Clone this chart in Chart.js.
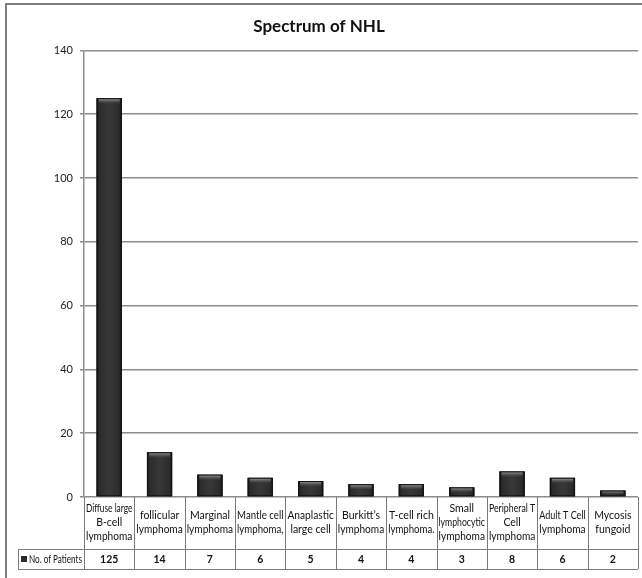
<!DOCTYPE html>
<html>
<head>
<meta charset="utf-8">
<script src="https://cdn.jsdelivr.net/npm/chart.js@4/dist/chart.umd.min.js"></script>
<style>
  html, body { margin: 0; padding: 0; background: #ffffff; }
  canvas { display: block; }
</style>
</head>
<body>
<canvas id="chart" width="642" height="578"></canvas>
<script>
// NHL subtypes and patient counts
const chartTitle = 'Spectrum of NHL';
const seriesName = 'No. of Patients';
const categories = [
  ['Diffuse large', 'B-cell', 'lymphoma'],
  ['follicular', 'lymphoma'],
  ['Marginal', 'lymphoma'],
  ['Mantle cell', 'lymphoma,'],
  ['Anaplastic', 'large cell'],
  ['Burkitt\u2019s', 'lymphoma'],
  ['T-cell rich', 'lymphoma.'],
  ['Small', 'lymphocytic', 'lymphoma'],
  ['Peripheral T', 'Cell', 'lymphoma'],
  ['Adult T Cell', 'lymphoma'],
  ['Mycosis', 'fungoid']
];
const patients = [125, 14, 7, 6, 5, 4, 4, 3, 8, 6, 2];
const yMin = 0;
const yMax = 140;
const yStep = 20;

const FONT = "Lato, 'Liberation Sans', sans-serif";

// Outer frame lines (top and left edge)
const framePlugin = {
  id: 'frame',
  beforeDraw(chart) {
    const ctx = chart.ctx;
    ctx.save();
    ctx.fillStyle = '#ffffff';
    ctx.fillRect(0, 0, chart.width, chart.height);
    ctx.strokeStyle = '#7e7e7e';
    ctx.lineWidth = 2;
    ctx.beginPath();
    ctx.moveTo(6, chart.height);
    ctx.lineTo(6, 4);
    ctx.lineTo(chart.width, 4);
    ctx.stroke();
    ctx.restore();
  }
};

// Bevelled look for the bars: darker edges, lighter top rim
const bevelPlugin = {
  id: 'bevel',
  afterDatasetsDraw(chart) {
    const ctx = chart.ctx;
    const meta = chart.getDatasetMeta(0);
    ctx.save();
    meta.data.forEach(bar => {
      const { x, y, base, width } = bar.getProps(['x', 'y', 'base', 'width'], true);
      const l = x - width / 2, r = x + width / 2;
      const h = base - y;
      const g = ctx.createLinearGradient(l, 0, r, 0);
      g.addColorStop(0, '#161616');
      g.addColorStop(0.12, '#2c2c2c');
      g.addColorStop(0.5, '#383838');
      g.addColorStop(0.88, '#2c2c2c');
      g.addColorStop(1, '#161616');
      ctx.fillStyle = g;
      ctx.fillRect(l, y, width, h);
      ctx.strokeStyle = '#111111';
      ctx.lineWidth = 1;
      ctx.strokeRect(l + 0.5, y + 0.5, width - 1, h - 1);
      const rim = Math.min(5, h / 2);
      const tg = ctx.createLinearGradient(0, y + 1, 0, y + 1 + rim);
      tg.addColorStop(0, '#8a8a8a');
      tg.addColorStop(1, 'rgba(60,60,60,0)');
      ctx.fillStyle = tg;
      ctx.fillRect(l + 2, y + 1, width - 4, rim);
    });
    ctx.restore();
  }
};

// Data table under the plot area
const tablePlugin = {
  id: 'dataTable',
  afterDraw(chart) {
    const ctx = chart.ctx;
    const { left, right, bottom } = chart.chartArea;
    const xs = chart.scales.x;
    const n = categories.length;
    const colW = (right - left) / n;
    const rowMid = bottom + 52;
    const rowBot = bottom + 72;
    const labelLeft = 18;

    ctx.save();
    ctx.strokeStyle = '#7a7a7a';
    ctx.lineWidth = 1;
    ctx.beginPath();
    for (let i = 0; i <= n; i++) {
      const bx = Math.round(i < n ? xs.getPixelForValue(i) - colW / 2 : xs.getPixelForValue(n - 1) + colW / 2) + 0.5;
      ctx.moveTo(bx, bottom);
      ctx.lineTo(bx, rowBot);
    }
    ctx.moveTo(labelLeft + 0.5, rowMid);
    ctx.lineTo(labelLeft + 0.5, rowBot);
    ctx.moveTo(labelLeft, rowMid + 0.5);
    ctx.lineTo(right, rowMid + 0.5);
    ctx.moveTo(labelLeft, rowBot + 0.5);
    ctx.lineTo(right, rowBot + 0.5);
    ctx.stroke();

    ctx.fillStyle = '#111111';
    ctx.textAlign = 'center';
    ctx.textBaseline = 'middle';
    ctx.font = '10.5px ' + FONT;
    const lineH = 14;
    categories.forEach((lines, i) => {
      const cx = xs.getPixelForValue(i);
      const cy = (bottom + rowMid) / 2;
      const startY = cy - (lines.length - 1) * lineH / 2;
      lines.forEach((t, k) => ctx.fillText(t, cx, startY + k * lineH, colW - 4));
      ctx.font = 'bold 10.5px ' + FONT;
      ctx.fillText(String(patients[i]), cx, (rowMid + rowBot) / 2 + 1, colW - 4);
      ctx.font = '10.5px ' + FONT;
    });

    // series key + name
    const ky = (rowMid + rowBot) / 2;
    ctx.fillStyle = '#2a2a2a';
    ctx.fillRect(labelLeft + 3, ky - 3, 6, 6);
    ctx.fillStyle = '#111111';
    ctx.textAlign = 'left';
    ctx.fillText(seriesName, labelLeft + 11, ky + 1, left - labelLeft - 13);
    ctx.restore();
  }
};

new Chart(document.getElementById('chart'), {
  type: 'bar',
  data: {
    labels: categories,
    datasets: [{
      label: seriesName,
      data: patients,
      backgroundColor: '#2a2a2a',
      borderWidth: 0,
      barPercentage: 0.5,
      categoryPercentage: 1.0
    }]
  },
  options: {
    responsive: false,
    animation: false,
    devicePixelRatio: 1,
    layout: { padding: { left: 0, right: 4, top: 0, bottom: 81 } },
    plugins: {
      legend: { display: false },
      tooltip: { enabled: false },
      title: {
        display: true,
        text: chartTitle,
        color: '#111111',
        font: { family: FONT, size: 17, weight: 'bold' },
        padding: { top: 16, bottom: 14 }
      }
    },
    scales: {
      x: { display: false },
      y: {
        min: yMin,
        max: yMax,
        ticks: {
          stepSize: yStep,
          color: '#222222',
          font: { family: FONT, size: 11 },
          padding: 7
        },
        grid: { color: '#8c8c8c', lineWidth: 1.5, tickLength: 4 },
        border: { display: true, color: '#8c8c8c', width: 1.5 },
        afterFit(scale) { scale.width = 84; }
      }
    }
  },
  plugins: [framePlugin, bevelPlugin, tablePlugin]
});
</script>
</body>
</html>
